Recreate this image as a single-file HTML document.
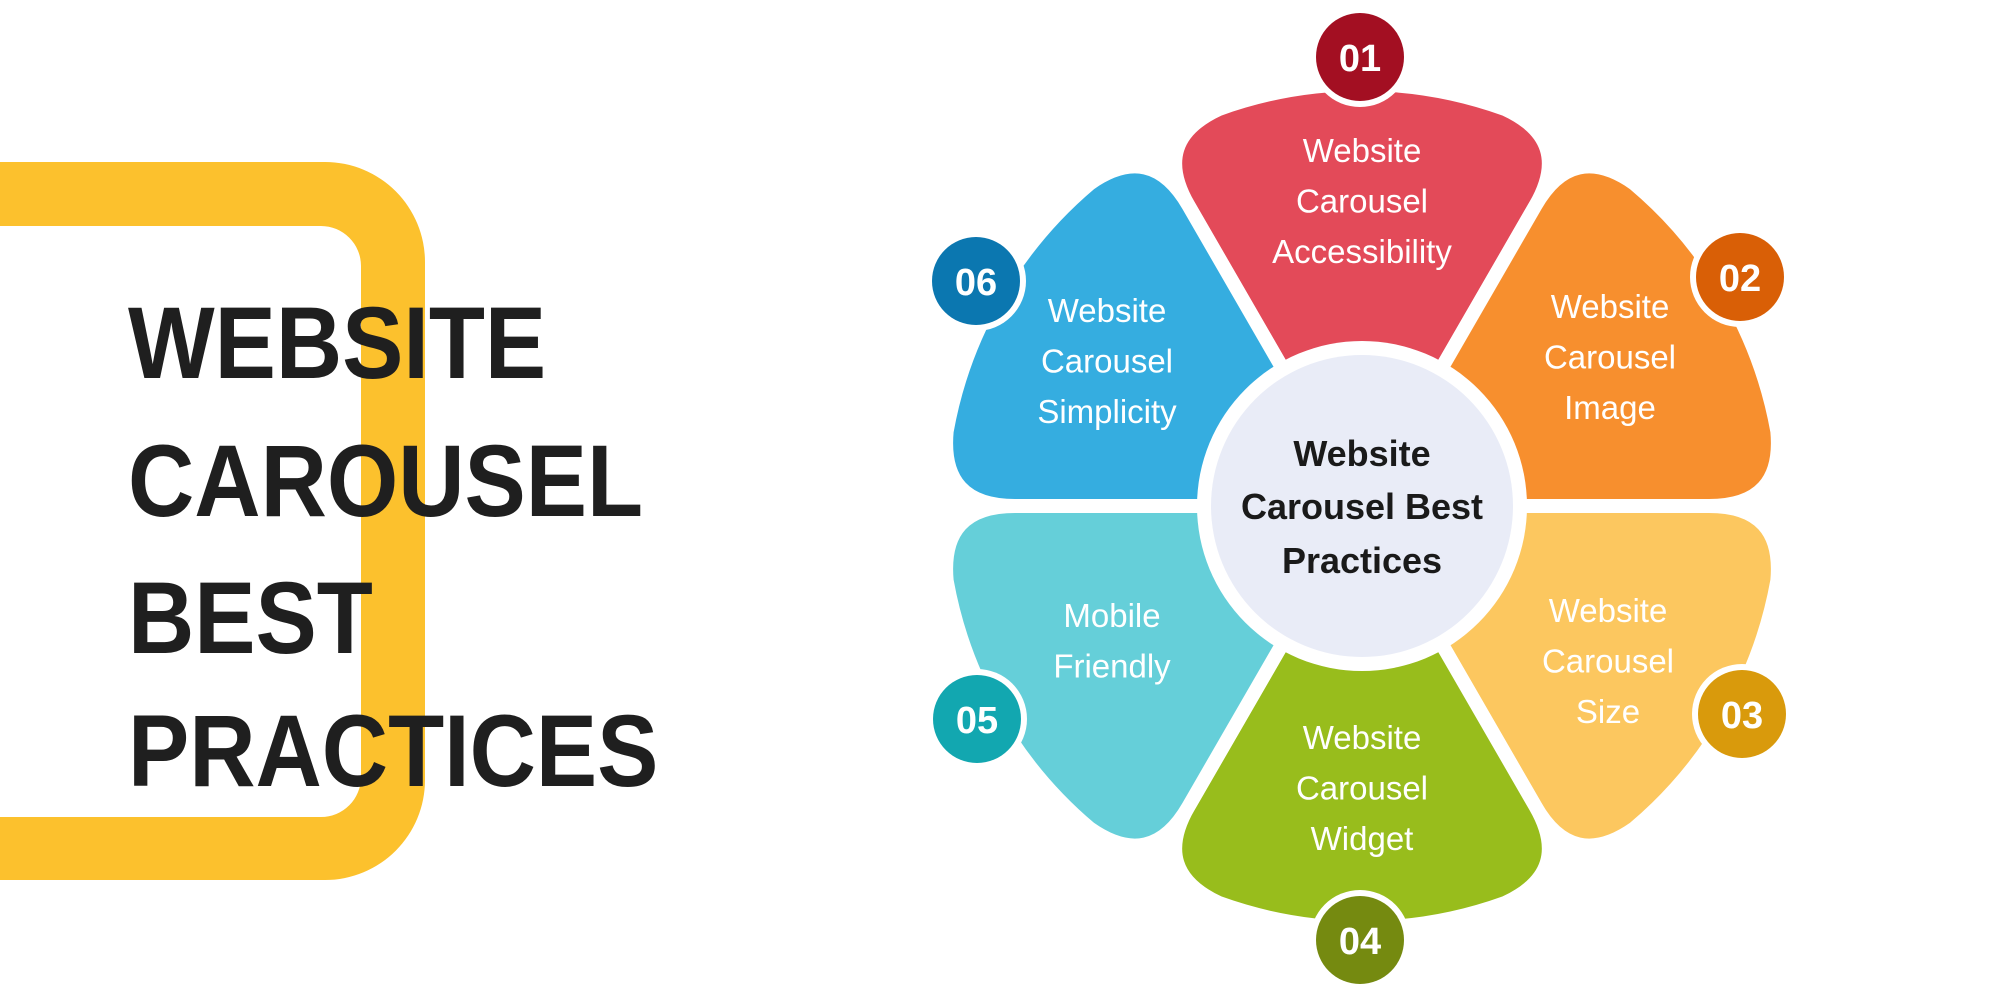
<!DOCTYPE html>
<html><head><meta charset="utf-8"><style>
html,body{margin:0;padding:0;background:#fff;width:2000px;height:1000px;overflow:hidden}
svg{display:block}
.t{font-family:"Liberation Sans",sans-serif}
</style></head><body>
<svg id="s" width="2000" height="1000" viewBox="0 0 2000 1000">
<path d="M-40 162 H325 A100 100 0 0 1 425 262 V780 A100 100 0 0 1 325 880 H-40 V817 H321 A40 40 0 0 0 361 777 V266 A40 40 0 0 0 321 226 H-40 Z" fill="#fcc12d"/>
<g class="t" font-weight="bold" font-size="102" fill="#1f1f1f">
<text transform="translate(128,378) scale(0.9,1)">WEBSITE</text>
<text transform="translate(128,516) scale(0.9,1)">CAROUSEL</text>
<text transform="translate(128,653) scale(0.9,1)">BEST</text>
<text transform="translate(128,786) scale(0.9,1)">PRACTICES</text>
</g>
<g id="petals"></g>
<circle cx="1362" cy="506" r="165" fill="#fff"/>
<circle cx="1362" cy="506" r="151" fill="#e9ecf7"/>
<g class="t" font-weight="bold" font-size="36" fill="#1a1a1a" text-anchor="middle">
<text x="1362" y="466">Website</text>
<text x="1362" y="519">Carousel Best</text>
<text x="1362" y="573">Practices</text>
</g>
<g id="badges"></g>
</svg>
<script>
const numbers=['01','02','03','04','05','06'];
const labels=[['Website','Carousel','Accessibility'],['Website','Carousel','Image'],['Website','Carousel','Size'],['Website','Carousel','Widget'],['Mobile','Friendly'],['Website','Carousel','Simplicity']];
const petalColors=['#e34a59','#f78f2e','#fcc75f','#98bd1c','#65cfd9','#35ade0'];
const badgeColors=['#a30f22','#d95f06','#d99a0c','#758a10','#12a7b0','#0b77b0'];
const NS='http://www.w3.org/2000/svg';
const cx=1362,cy=506,R=422,rc=75;
const pg=document.getElementById('petals'),bg=document.getElementById('badges');
function P(r,a){return [cx+r*Math.cos(a),cy+r*Math.sin(a)];}
const textPos=[[1362,150],[1610,306],[1608,610],[1362,737],[1112,615],[1107,310]];
const badgePos=[[1360,57],[1740,277],[1742,714],[1360,940],[977,719],[976,281]];
numbers.forEach((n,i)=>{
  const mid=(-90+60*i)*Math.PI/180,h=Math.PI/6,a0=mid-h,a1=mid+h,d=rc/R;
  const p1=P(R-rc,a0),c1=P(R,a0),p2=P(R,a0+d),p3=P(R,a1-d),c2=P(R,a1),p4=P(R-rc,a1);
  const path=document.createElementNS(NS,'path');
  path.setAttribute('d',`M${cx} ${cy}L${p1}Q${c1} ${p2}A${R} ${R} 0 0 1 ${p3}Q${c2} ${p4}Z`);
  path.setAttribute('fill',petalColors[i]);path.setAttribute('stroke','#fff');path.setAttribute('stroke-width','14');path.setAttribute('stroke-linejoin','round');
  
  
  pg.appendChild(path);
  const t=document.createElementNS(NS,'text');
  t.setAttribute('class','t');t.setAttribute('font-size','33');t.setAttribute('fill','#fff');t.setAttribute('text-anchor','middle');
  
  
  labels[i].forEach((l,j)=>{const ts=document.createElementNS(NS,'tspan');ts.setAttribute('x',textPos[i][0]);ts.setAttribute('y',textPos[i][1]+12+j*50.5);ts.textContent=l;t.appendChild(ts);});
  pg.appendChild(t);
  const g=document.createElementNS(NS,'g');
  
  
  const c0=document.createElementNS(NS,'circle');c0.setAttribute('cx',badgePos[i][0]);c0.setAttribute('cy',badgePos[i][1]);c0.setAttribute('r',50);c0.setAttribute('fill','#fff');g.appendChild(c0);
  const c=document.createElementNS(NS,'circle');c.setAttribute('cx',badgePos[i][0]);c.setAttribute('cy',badgePos[i][1]);c.setAttribute('r',44);c.setAttribute('fill',badgeColors[i]);g.appendChild(c);
  const bt=document.createElementNS(NS,'text');bt.setAttribute('class','t');bt.setAttribute('x',badgePos[i][0]);bt.setAttribute('y',badgePos[i][1]+14);bt.setAttribute('font-size','38');bt.setAttribute('font-weight','bold');bt.setAttribute('fill','#fff');bt.setAttribute('text-anchor','middle');bt.textContent=n;g.appendChild(bt);
  bg.appendChild(g);
});
</script>
</body></html>
